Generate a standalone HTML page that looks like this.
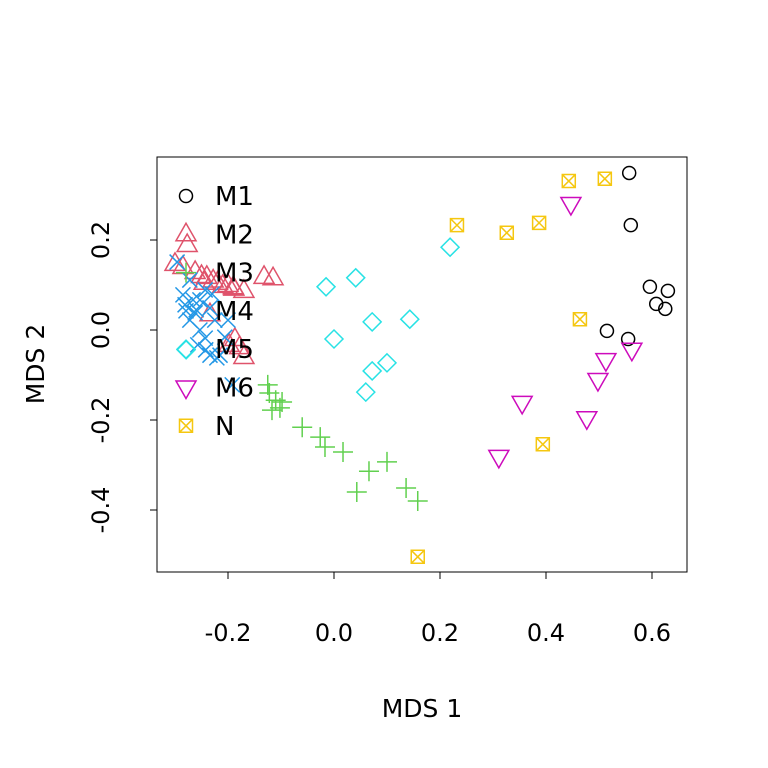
<!DOCTYPE html>
<html><head><meta charset="utf-8"><style>
body{margin:0;background:#fff}
svg{display:block;font-family:"DejaVu Sans","Liberation Sans",sans-serif}
</style></head><body>
<svg id="c" width="768" height="768" xmlns="http://www.w3.org/2000/svg"></svg>
<script>
const xTicks=[-0.2,0.0,0.2,0.4,0.6];
const xTickLabels=["-0.2","0.0","0.2","0.4","0.6"];
const yTicks=[-0.4,-0.2,0.0,0.2];
const yTickLabels=["-0.4","-0.2","0.0","0.2"];
const groups=["M1","M2","M3","M4","M5","M6","N"];
const colors=["#000000","#DF536B","#61D04F","#2297E6","#28E2E5","#CD0BBC","#F5C710"];
const m1x=[0.557,0.560,0.596,0.608,0.630,0.625,0.515,0.555];
const m1y=[0.349,0.233,0.096,0.058,0.087,0.047,-0.002,-0.020];
const m2x=[-0.277,-0.300,-0.285,-0.262,-0.240,-0.220,-0.200,-0.190,-0.228,-0.210,-0.189,-0.170,-0.132,-0.115,-0.234,-0.187,-0.178,-0.170,-0.198,-0.250,-0.245];
const m2y=[0.189,0.147,0.140,0.129,0.118,0.105,0.100,0.095,0.110,0.098,0.092,0.087,0.118,0.115,0.035,-0.020,-0.038,-0.060,-0.033,0.120,0.105];
const m3x=[-0.125,-0.122,-0.110,-0.098,-0.117,-0.102,-0.060,-0.026,-0.017,0.017,0.043,0.066,0.100,0.136,0.158];
const m3y=[-0.122,-0.140,-0.156,-0.160,-0.178,-0.173,-0.216,-0.238,-0.260,-0.271,-0.360,-0.314,-0.293,-0.351,-0.380];
const m4x=[-0.296,-0.272,-0.285,-0.266,-0.281,-0.253,-0.243,-0.234,-0.262,-0.272,-0.253,-0.225,-0.200,-0.257,-0.242,-0.234,-0.215,-0.243,-0.206,-0.192,-0.221,-0.260,-0.230];
const m4y=[0.151,0.111,0.078,0.067,0.056,0.067,0.089,0.049,0.038,0.022,0.000,0.022,0.022,-0.033,-0.044,-0.056,-0.056,-0.018,-0.016,-0.122,-0.062,0.045,0.080];
const m5x=[0.219,0.041,-0.015,0.143,0.072,0.000,0.100,0.072,0.060,-0.279];
const m5y=[0.184,0.116,0.096,0.024,0.018,-0.020,-0.073,-0.091,-0.138,-0.044];
const m6x=[0.447,0.513,0.562,0.498,0.355,0.477,0.311];
const m6y=[0.280,-0.067,-0.044,-0.111,-0.162,-0.196,-0.282];
const nx=[0.443,0.511,0.232,0.326,0.387,0.464,0.394,0.158];
const ny=[0.331,0.336,0.233,0.216,0.238,0.024,-0.254,-0.504];
const xs=[m1x,m2x,m3x,m4x,m5x,m6x,nx], ys=[m1y,m2y,m3y,m4y,m5y,m6y,ny];

const svg=document.getElementById('c');const NS="http://www.w3.org/2000/svg";
const X=v=>334+v*530, Y=v=>330-v*450;
function mk(t,a,p){const e=document.createElementNS(NS,t);for(const k in a)e.setAttribute(k,a[k]);(p||svg).appendChild(e);return e;}
function sym(g,cx,cy,par){const c=colors[g];const s={fill:'none',stroke:c,'stroke-width':1.5};let e;
 if(g===0)e=mk('circle',Object.assign({cx:cx,cy:cy,r:6.5},s),par);
 else if(g===1)e=mk('polygon',Object.assign({points:`${cx},${cy-11} ${cx-10},${cy+6.5} ${cx+10},${cy+6.5}`},s),par);
 else if(g===2)e=mk('path',Object.assign({d:`M${cx-10},${cy}H${cx+10}M${cx},${cy-10}V${cy+10}`},s),par);
 else if(g===3)e=mk('path',Object.assign({d:`M${cx-7.5},${cy-7.5}L${cx+7.5},${cy+7.5}M${cx-7.5},${cy+7.5}L${cx+7.5},${cy-7.5}`},s),par);
 else if(g===4)e=mk('polygon',Object.assign({points:`${cx},${cy-9} ${cx+9},${cy} ${cx},${cy+9} ${cx-9},${cy}`},s),par);
 else if(g===5)e=mk('polygon',Object.assign({points:`${cx},${cy+11} ${cx-10},${cy-6.5} ${cx+10},${cy-6.5}`},s),par);
 else e=mk('path',Object.assign({d:`M${cx-6.5},${cy-6.5}h13v13h-13zM${cx-6.5},${cy-6.5}l13,13M${cx-6.5},${cy+6.5}l13,-13`},s),par);
 return e;}
const plot=mk('g',{});
for(let g=0;g<7;g++){const gg=mk('g',{},plot);
 for(let i=0;i<xs[g].length;i++){const e=sym(g,X(xs[g][i]),Y(ys[g][i]),gg);}}
const fr=mk('rect',{x:157,y:157,width:530,height:415,fill:'none',stroke:'#000','stroke-width':1});

const xa=mk('g',{});
mk('line',{x1:X(-0.2),x2:X(0.6),y1:572,y2:572,stroke:'#000'},xa);
xTicks.forEach((v,i)=>{mk('line',{x1:X(v),x2:X(v),y1:572,y2:579,stroke:'#000'},xa);
 const t=mk('text',{x:X(v),y:641,'text-anchor':'middle','font-size':24},xa);t.textContent=xTickLabels[i];});
const ya=mk('g',{});
mk('line',{x1:157,x2:157,y1:Y(-0.4),y2:Y(0.2),stroke:'#000'},ya);
yTicks.forEach((v,i)=>{mk('line',{x1:150,x2:157,y1:Y(v),y2:Y(v),stroke:'#000'},ya);
 const t=mk('text',{x:0,y:0,'text-anchor':'middle','font-size':24,transform:`translate(109,${Y(v)}) rotate(-90)`},ya);t.textContent=yTickLabels[i];});
let t=mk('text',{x:422,y:717,'text-anchor':'middle','font-size':25});t.textContent='MDS 1';
t=mk('text',{x:0,y:0,'text-anchor':'middle','font-size':25,transform:'translate(44,364) rotate(-90)'});t.textContent='MDS 2';
const lg=mk('g',{});
groups.forEach((n,g)=>{const cy=196+g*38.3;const en=mk('g',{},lg);
 sym(g,186,cy,en);const tx=mk('text',{x:215,y:cy+9,'font-size':26},en);tx.textContent=n;});
</script>
</body></html>
